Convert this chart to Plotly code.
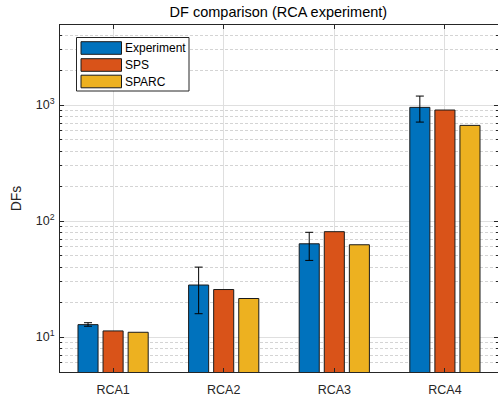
import plotly.graph_objects as go

categories = ["RCA1", "RCA2", "RCA3", "RCA4"]
series_names = ["Experiment", "SPS", "SPARC"]
experiment = [12.8, 28.1, 63.7, 955]
experiment_err_hi = [13.3, 40.1, 80.0, 1195]
experiment_err_lo = [12.4, 15.9, 45.8, 713]
sps = [11.3, 25.7, 81.0, 906]
sparc = [11.0, 21.5, 62.5, 668]
colors = ["#0072BD", "#D95319", "#EDB120"]
ytick_vals = [10, 100, 1000]
ytick_text = ["10<sup>1</sup>", "10<sup>2</sup>", "10<sup>3</sup>"]
minor_vals = [m * 10 ** k for k in range(0, 4) for m in range(2, 10)]

fig = go.Figure()
err_plus = [h - v for h, v in zip(experiment_err_hi, experiment)]
err_minus = [v - l for l, v in zip(experiment_err_lo, experiment)]

edge = dict(color="#1a1a1a", width=1)
fig.add_trace(go.Bar(x=categories, y=experiment, name=series_names[0],
                     marker=dict(color=colors[0], line=edge),
                     error_y=dict(type="data", symmetric=False, array=err_plus, arrayminus=err_minus,
                                  color="#000000", thickness=1, width=4)))
fig.add_trace(go.Bar(x=categories, y=sps, name=series_names[1],
                     marker=dict(color=colors[1], line=edge)))
fig.add_trace(go.Bar(x=categories, y=sparc, name=series_names[2],
                     marker=dict(color=colors[2], line=edge)))

# plot-area pixel geometry (for legend placement)
L, R, T, B = 60, 498, 25, 372
def px(x):
    return (x - L) / (R - L)
def py(y):
    return (B - y) / (B - T)

# manual legend (MATLAB style wide swatches)
shapes = [dict(type="rect", xref="paper", yref="paper", x0=px(76.5), x1=px(189), y0=py(91), y1=py(37.5),
               line=dict(color="#262626", width=1), fillcolor="white", layer="above")]
annotations = []
row_centers = [48, 65, 81.5]
for name, col, yc in zip(series_names, colors, row_centers):
    shapes.append(dict(type="rect", xref="paper", yref="paper", x0=px(81), x1=px(121.5),
                       y0=py(yc + 6.3), y1=py(yc - 6.3), line=dict(color="#1a1a1a", width=1),
                       fillcolor=col, layer="above"))
    annotations.append(dict(text=name, xref="paper", yref="paper", x=px(123), y=py(yc),
                            xanchor="left", yanchor="middle", showarrow=False,
                            font=dict(size=12, color="#000000")))

axis_color = "#262626"
fig.update_layout(
    width=498, height=398,
    margin=dict(l=L, r=498 - R, t=T, b=398 - B),
    paper_bgcolor="white", plot_bgcolor="white",
    barmode="group", bargap=0.32, bargroupgap=0.2,
    showlegend=False,
    shapes=shapes, annotations=annotations,
    font=dict(family="Liberation Sans, Arial, sans-serif", size=12, color=axis_color),
    title=dict(text="DF comparison (RCA experiment)", x=0.559, xanchor="center",
               y=1 - 12/398, yanchor="middle", yref="container",
               font=dict(size=14.5, color="#000000")),
    xaxis=dict(range=[-0.48, 3.48], showline=True, mirror="ticks", linecolor=axis_color, linewidth=1,
               showgrid=True, gridcolor="#dfdfdf", ticks="inside", ticklen=4, tickcolor=axis_color,
               tickfont=dict(size=12.5, color=axis_color), ticklabelstandoff=6, automargin=False),
    yaxis=dict(type="log", range=[0.699, 3.69], showline=True, mirror="ticks", linecolor=axis_color,
               linewidth=1, showgrid=True, gridcolor="#dfdfdf", ticks="inside", ticklen=4,
               tickcolor=axis_color, tickvals=ytick_vals, ticktext=ytick_text,
               tickfont=dict(size=12.5, color=axis_color), automargin=False, ticklabelstandoff=2,
               minor=dict(showgrid=True, griddash="3px,2px", gridcolor="#d4d4d4", ticks="inside",
                          ticklen=2, tickcolor=axis_color, tickvals=minor_vals),
               title=dict(text="DFs", standoff=10, font=dict(size=14, color=axis_color))),
)
fig.write_html("out.html", config={"displayModeBar": False},
               post_script="document.body.style.margin='0';document.body.style.overflow='hidden';")
